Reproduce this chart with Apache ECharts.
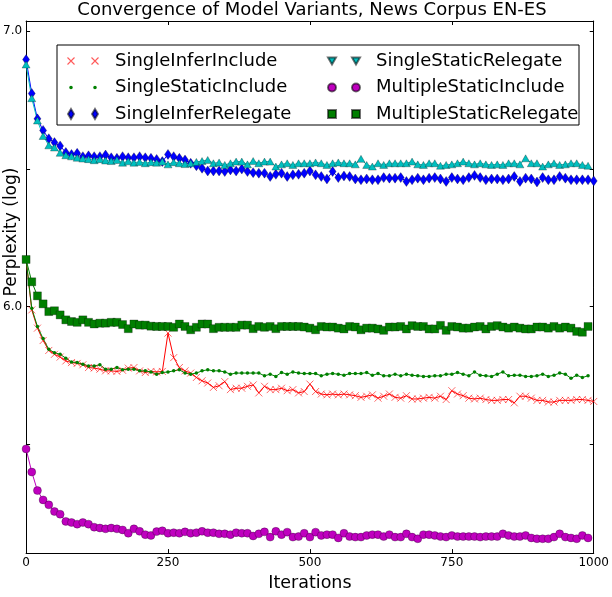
<!DOCTYPE html>
<html><head><meta charset="utf-8">
<script src="https://cdn.jsdelivr.net/npm/echarts@6/dist/echarts.min.js"></script>
<style>html,body{margin:0;padding:0;background:#fff}#c{width:612px;height:597px}</style>
</head><body><div id="c"></div>
<script>
// ---- data ----
const iterations = Array.from({length: 101}, (_, i) => i * 10);
const seriesNames = ['SingleInferInclude','SingleStaticInclude','SingleInferRelegate','SingleStaticRelegate','MultipleStaticInclude','MultipleStaticRelegate'];
const xTickLabels = [0, 250, 500, 750, 1000];
const yLabelValues = [6.0, 7.0];
const yTickValues = [5.5, 6.0, 6.5, 7.0];

const singleInferInclude = [
 6.171,5.988,5.922,5.877,5.841,5.827,5.817,5.803,5.797,5.794,
 5.789,5.779,5.777,5.773,5.767,5.767,5.765,5.769,5.777,5.779,
 5.767,5.761,5.765,5.763,5.765,5.904,5.815,5.779,5.767,5.759,
 5.743,5.731,5.723,5.707,5.713,5.728,5.699,5.704,5.704,5.711,
 5.716,5.687,5.711,5.699,5.699,5.704,5.695,5.699,5.687,5.692,
 5.719,5.692,5.683,5.680,5.683,5.680,5.683,5.680,5.677,5.671,
 5.675,5.680,5.668,5.675,5.683,5.671,5.668,5.677,5.665,5.665,
 5.668,5.671,5.668,5.675,5.663,5.695,5.683,5.677,5.668,5.665,
 5.668,5.663,5.660,5.660,5.663,5.663,5.651,5.675,5.675,5.668,
 5.660,5.660,5.654,5.654,5.660,5.660,5.660,5.663,5.663,5.660,
 5.656];
const singleStaticInclude = [
 6.171,5.994,5.928,5.884,5.845,5.833,5.827,5.813,5.799,5.797,
 5.791,5.785,5.785,5.789,5.773,5.773,5.779,5.771,5.773,5.773,
 5.767,5.767,5.763,5.755,5.761,5.763,5.767,5.771,5.759,5.755,
 5.759,5.767,5.771,5.767,5.767,5.763,5.755,5.759,5.759,5.759,
 5.759,5.759,5.749,5.755,5.747,5.761,5.755,5.763,5.759,5.757,
 5.757,5.757,5.749,5.755,5.757,5.755,5.751,5.757,5.757,5.757,
 5.761,5.751,5.757,5.749,5.749,5.755,5.749,5.755,5.751,5.749,
 5.747,5.747,5.749,5.749,5.755,5.755,5.761,5.755,5.749,5.763,
 5.751,5.749,5.747,5.755,5.763,5.749,5.751,5.751,5.747,5.747,
 5.749,5.755,5.747,5.751,5.759,5.755,5.740,5.751,5.743,5.749];
const singleInferRelegate = [
 6.896,6.773,6.681,6.639,6.609,6.595,6.583,6.559,6.552,6.556,
 6.544,6.547,6.544,6.544,6.550,6.540,6.538,6.544,6.540,6.540,
 6.544,6.540,6.538,6.534,6.526,6.552,6.544,6.538,6.532,6.520,
 6.511,
 6.502,6.492,6.492,6.492,6.490,6.496,6.492,6.499,6.490,6.486,
 6.484,6.484,6.472,6.480,6.484,6.472,6.478,6.480,6.484,6.492,
 6.478,6.472,6.463,6.490,6.468,6.474,6.472,6.463,6.460,6.463,
 6.460,6.460,6.468,6.466,6.466,6.468,6.454,6.460,6.466,6.460,
 6.466,6.468,6.463,6.454,6.468,6.463,6.460,6.468,6.476,6.468,
 6.460,6.463,6.463,6.460,6.463,6.472,6.454,6.466,6.463,6.452,
 6.468,6.460,6.460,6.472,6.466,6.460,6.460,6.460,6.460,6.456];
const singleStaticRelegate = [
 6.878,6.756,6.675,6.619,6.585,6.577,6.558,6.549,6.545,6.540,
 6.537,6.535,6.531,6.535,6.530,6.528,6.532,6.522,6.527,6.522,
 6.525,6.520,6.524,6.522,6.526,6.516,6.524,6.520,6.517,6.520,
 6.525,
 6.528,6.532,6.520,6.523,6.514,6.520,6.526,6.526,6.516,6.528,
 6.520,6.526,6.526,6.508,6.516,6.520,6.514,6.520,6.520,6.520,
 6.523,6.520,6.514,6.520,6.523,6.520,6.520,6.516,6.536,6.514,
 6.508,6.520,6.514,6.520,6.520,6.520,6.520,6.526,6.516,6.514,
 6.520,6.520,6.511,6.514,6.516,6.520,6.526,6.520,6.516,6.520,
 6.516,6.514,6.516,6.514,6.520,6.520,6.516,6.538,6.520,6.520,
 6.508,6.516,6.520,6.514,6.516,6.520,6.520,6.514,6.511];
const multipleStaticInclude = [
 5.484,5.400,5.333,5.299,5.281,5.257,5.247,5.221,5.217,5.211,
 5.217,5.211,5.200,5.197,5.194,5.197,5.194,5.190,5.178,5.194,
 5.185,5.173,5.170,5.184,5.187,5.178,
 5.180,5.178,5.183,5.178,5.180,5.185,5.180,5.180,5.176,5.176,
 5.173,5.180,5.178,5.178,5.168,5.176,5.183,5.164,5.185,5.173,
 5.182,5.164,5.166,5.178,5.164,5.182,5.170,5.173,5.173,5.161,
 5.178,5.166,5.164,5.164,5.170,5.173,5.173,5.166,5.173,5.164,
 5.164,5.176,5.164,5.158,5.173,5.173,5.170,5.166,5.164,5.170,
 5.166,5.166,5.166,5.166,5.164,5.166,5.166,5.166,5.176,5.170,
 5.166,5.166,5.170,5.161,5.158,5.158,5.158,5.164,5.176,5.164,
 5.161,5.158,5.170,5.161];
const multipleStaticRelegate = [
 6.171,6.090,6.039,6.010,5.982,5.985,5.970,5.952,5.946,5.943,
 5.952,5.943,5.937,5.940,5.940,5.943,5.943,5.935,5.920,5.937,
 5.933,5.933,5.929,5.928,5.928,5.928,5.925,5.937,5.928,5.916,
 5.925,5.937,5.937,5.920,5.925,5.925,5.925,5.925,5.933,5.933,
 5.920,5.928,5.925,5.928,5.920,5.928,5.928,5.928,5.928,
 5.926,5.922,5.916,5.928,5.926,5.926,5.922,5.919,5.928,5.926,
 5.916,5.922,5.922,5.919,5.914,5.926,5.926,5.928,5.919,5.931,
 5.928,5.928,5.919,5.919,5.932,5.914,5.928,5.926,5.922,5.922,
 5.926,5.928,5.919,5.928,5.931,5.926,5.922,5.926,5.922,5.919,
 5.919,5.926,5.926,5.922,5.928,5.922,5.926,5.922,5.910,5.907,
 5.928];

// ---- style ----
const FONT = 'DejaVu Sans';
const Y_MIN = 5.106, Y_MAX = 7.036;
const EDGE = 'rgba(0,0,0,0.55)';
const BOUNDS = 'M0 0L0 0M45 12L45 12';
function circ(cx, cy, r) { return `M${cx-r} ${cy}a${r} ${r} 0 1 0 ${2*r} 0a${r} ${r} 0 1 0 ${-2*r} 0Z`; }
function sq(cx, cy, h) { return `M${cx-h} ${cy-h}L${cx+h} ${cy-h}L${cx+h} ${cy+h}L${cx-h} ${cy+h}Z`; }
function dia(cx, cy, w, h) { return `M${cx} ${cy-h}L${cx+w} ${cy}L${cx} ${cy+h}L${cx-w} ${cy}Z`; }
function triDown(cx, cy, w, h) { return `M${cx-w} ${cy-h}L${cx+w} ${cy-h}L${cx} ${cy+h}Z`; }
function xs(cx, cy, s, t) {
  return `M${cx-s+t} ${cy-s-t}L${cx+s+t} ${cy+s-t}L${cx+s-t} ${cy+s+t}L${cx-s-t} ${cy-s+t}Z` +
         `M${cx+s+t} ${cy-s+t}L${cx-s+t} ${cy+s+t}L${cx-s-t} ${cy+s-t}L${cx+s-t} ${cy-s-t}Z`;
}
const legendIcons = {
  SingleInferInclude: 'path://' + BOUNDS + xs(6,6,3.5,0.4) + xs(30,6,3.5,0.4),
  SingleStaticInclude: 'path://' + BOUNDS + circ(6,6,1.8) + circ(30,6,1.8),
  SingleInferRelegate: 'path://' + BOUNDS + dia(6,6,3,5) + dia(30,6,3,5),
  SingleStaticRelegate: 'path://' + BOUNDS + triDown(6,6,4,3.5) + triDown(30,6,4,3.5),
  MultipleStaticInclude: 'path://' + BOUNDS + circ(6,6,4) + circ(30,6,4),
  MultipleStaticRelegate: 'path://' + BOUNDS + sq(6,6,4) + sq(30,6,4)
};

function mk(name, data, color, symbol, size, itemStyle) {
  return {
    name, type: 'line', data, symbol, symbolSize: size,
    showSymbol: true, showAllSymbol: true, animation: false,
    lineStyle: {color, width: 1},
    itemStyle: Object.assign({color, borderColor: EDGE, borderWidth: 0.5}, itemStyle || {}),
    emphasis: {disabled: true}
  };
}

const series = [
  mk(seriesNames[0], singleInferInclude, '#ff0000', 'path://M0 0L10 10M10 0L0 10', 7,
     {color: 'rgba(0,0,0,0)', borderColor: 'rgba(255,0,0,0.6)', borderWidth: 1}),
  mk(seriesNames[1], singleStaticInclude, '#008000', 'circle', 3.5, {borderWidth: 0}),
  mk(seriesNames[2], singleInferRelegate, '#0000ff', 'diamond', [7, 10]),
  mk(seriesNames[3], singleStaticRelegate, '#00bfbf', 'triangle', [8, 7]),
  mk(seriesNames[4], multipleStaticInclude, '#bf00bf', 'circle', 8),
  mk(seriesNames[5], multipleStaticRelegate, '#007f00', 'rect', 8)
];

function legendData(names) {
  return names.map(n => {
    const o = {name: n, icon: legendIcons[n]};
    if (n === 'SingleInferInclude') o.itemStyle = {color: 'rgba(255,0,0,0.65)', borderWidth: 0};
    return o;
  });
}
const legendCommon = {
  orient: 'vertical', itemWidth: 45, itemHeight: 12, itemGap: 8.5, padding: 0,
  selectedMode: false, z: 5,
  textStyle: {fontFamily: FONT, fontSize: 18, color: '#000', lineHeight: 18}
};

const axisLineStyle = {show: true, lineStyle: {color: '#000', width: 1}};
const option = {
  animation: false,
  backgroundColor: '#fff',
  grid: {left: 24, right: 14, top: 21, bottom: 38, containLabel: false},
  xAxis: [{
    type: 'category', data: iterations, boundaryGap: false,
    axisLine: axisLineStyle,
    axisTick: {show: true, inside: true, length: 4, interval: 24, lineStyle: {color: '#000'}},
    axisLabel: {interval: 24, color: '#000', fontFamily: FONT, fontSize: 12, margin: 4,
      formatter: v => (xTickLabels.indexOf(+v) >= 0 ? String(v) : '')},
    splitLine: {show: false},
    name: 'Iterations', nameLocation: 'middle', nameGap: 13,
    nameTextStyle: {fontFamily: FONT, fontSize: 17.5, color: '#000'}
  }, {
    type: 'category', data: iterations, boundaryGap: false, position: 'top',
    axisLine: axisLineStyle,
    axisTick: {show: true, inside: true, length: 4, interval: 24, lineStyle: {color: '#000'}},
    axisLabel: {show: false}, splitLine: {show: false}
  }],
  yAxis: [{
    type: 'value', min: Y_MIN, max: Y_MAX,
    axisLine: axisLineStyle,
    axisTick: {show: true, inside: true, length: 4, customValues: yTickValues, lineStyle: {color: '#000'}},
    axisLabel: {customValues: yLabelValues, formatter: v => Number(v).toFixed(1),
      color: '#000', fontFamily: FONT, fontSize: 12, margin: 4},
    splitLine: {show: false}
  }, {
    type: 'value', min: Y_MIN, max: Y_MAX, position: 'right',
    axisLine: axisLineStyle,
    axisTick: {show: true, inside: true, length: 4, customValues: yTickValues, lineStyle: {color: '#000'}},
    axisLabel: {show: false}, splitLine: {show: false}
  }],
  legend: [
    Object.assign({}, legendCommon, {left: 64, top: 52, data: legendData(seriesNames.slice(0, 3))}),
    Object.assign({}, legendCommon, {left: 325, top: 52, data: legendData(seriesNames.slice(3, 6))})
  ],
  graphic: [
    {type: 'rect', z: 3, shape: {x: 57, y: 45, width: 522, height: 80},
     style: {fill: '#fff', stroke: '#000', lineWidth: 1}},
    {type: 'text', z: 5, x: 312, y: 1,
     style: {text: 'Convergence of Model Variants, News Corpus EN-ES', fill: '#000',
       font: `18px "${FONT}"`, textAlign: 'center', textVerticalAlign: 'top'}},
    {type: 'text', z: 5, x: 12, y: 232, rotation: Math.PI / 2,
     style: {text: 'Perplexity (log)', fill: '#000', font: `17px "${FONT}"`,
       textAlign: 'center', textVerticalAlign: 'middle'}}
  ],
  series
};
const chart = echarts.init(document.getElementById('c'), null, {renderer: 'canvas'});
chart.setOption(option);
</script></body></html>
